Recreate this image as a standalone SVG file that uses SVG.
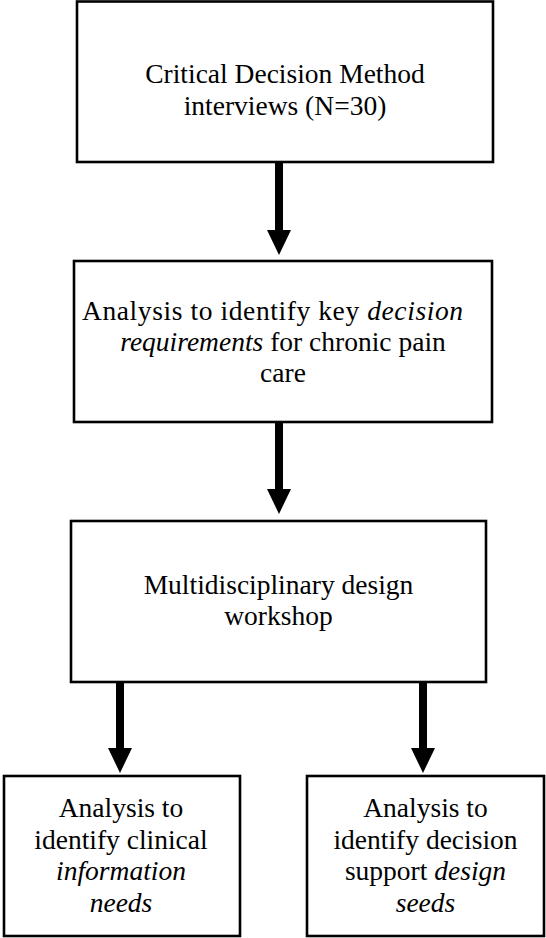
<svg xmlns="http://www.w3.org/2000/svg" width="546" height="938" viewBox="0 0 546 938">
<style>
.box{fill:#fff;stroke:#000;stroke-width:2.6}
.t{font-family:"Liberation Serif","Times New Roman",serif;font-size:27.5px;fill:#000;text-anchor:middle}
.i{font-style:italic}
.c{stroke:#000;stroke-width:8;fill:none}
</style>
<defs>
<marker id="ah" markerUnits="userSpaceOnUse" markerWidth="25" markerHeight="24" viewBox="0 0 25 24" refX="0" refY="12" orient="auto">
<path d="M0,0 L25,12 L0,24 Z" fill="#000"/>
</marker>
</defs>
<rect width="546" height="938" fill="#fff"/>
<g id="connectors">
<line class="c" x1="279" y1="163" x2="279" y2="230" marker-end="url(#ah)"/>
<line class="c" x1="279" y1="423" x2="279" y2="489" marker-end="url(#ah)"/>
<line class="c" x1="120" y1="683" x2="120" y2="748" marker-end="url(#ah)"/>
<line class="c" x1="423" y1="683" x2="423" y2="748" marker-end="url(#ah)"/>
</g>
<g id="n1">
<rect class="box" x="77" y="1.5" width="416" height="160.5"/>
<text class="t" x="285" y="83">Critical Decision Method</text>
<text class="t" x="285" y="114.5">interviews (N=30)</text>
</g>
<g id="n2">
<rect class="box" x="74" y="261" width="418" height="161"/>
<text class="t" x="82" y="320" style="text-anchor:start" textLength="381" lengthAdjust="spacing">Analysis to identify key <tspan class="i">decision</tspan></text>
<text class="t" x="283" y="351"><tspan class="i">requirements</tspan> for chronic pain</text>
<text class="t" x="283" y="382">care</text>
</g>
<g id="n3">
<rect class="box" x="71" y="521" width="415" height="161"/>
<text class="t" x="278.5" y="594">Multidisciplinary design</text>
<text class="t" x="278.5" y="625">workshop</text>
</g>
<g id="n4">
<rect class="box" x="4" y="776" width="236" height="160"/>
<text class="t" x="121" y="817">Analysis to</text>
<text class="t" x="121" y="849">identify clinical</text>
<text class="t i" x="121" y="880">information</text>
<text class="t i" x="121" y="912">needs</text>
</g>
<g id="n5">
<rect class="box" x="307" y="776" width="237" height="160"/>
<text class="t" x="425.5" y="817">Analysis to</text>
<text class="t" x="425.5" y="849">identify decision</text>
<text class="t" x="425.5" y="880">support <tspan class="i">design</tspan></text>
<text class="t i" x="425.5" y="912">seeds</text>
</g>
</svg>
